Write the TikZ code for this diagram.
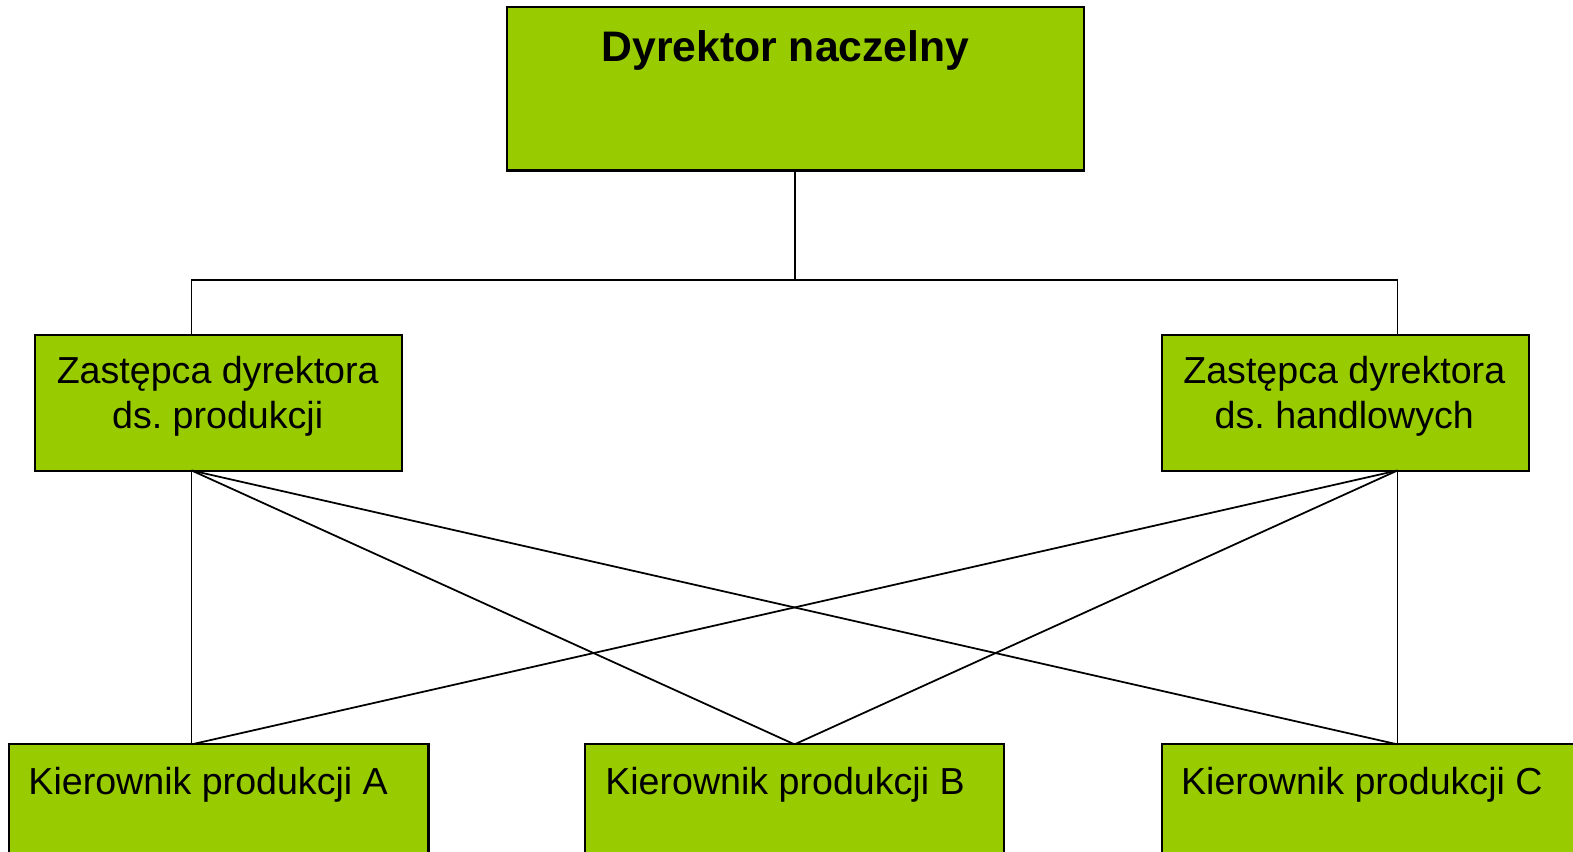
\documentclass[tikz,border=0pt]{standalone}
\usepackage{fontspec}
\setmainfont{Liberation Sans}
\definecolor{boxgreen}{HTML}{99CC00}
\tikzset{
  box/.style={draw=black,line width=1.2pt,fill=boxgreen,inner sep=0pt,outer sep=0pt,anchor=north west},
  txt/.style={font=\fontsize{21.4}{25.3}\selectfont,inner sep=0pt},
  conn/.style={line width=1pt}
}
\begin{document}
\frenchspacing
\begin{tikzpicture}[x=0.020064cm,y=-0.020064cm]
  \useasboundingbox (0,0) rectangle (1568,849);
  \clip (0,0) rectangle (1568,849);
  % boxes
  \node[box,minimum width=11.54cm,minimum height=3.27cm] (dyr) at (505,7) {};
  \node[box,minimum width=7.34cm,minimum height=2.71cm] (zastP) at (35,334) {};
  \node[box,minimum width=7.34cm,minimum height=2.71cm] (zastH) at (1158,334) {};
  \node[box,minimum width=8.39cm,minimum height=3.2cm] (kierA) at (9,742) {};
  \node[box,minimum width=8.39cm,minimum height=3.2cm] (kierB) at (583,742) {};
  \node[box,minimum width=9.3cm,minimum height=3.2cm] (kierC) at (1158,742) {};
  % attach points
  \coordinate (bus) at (792.5,279);
  \coordinate (zpN) at (191,334);
  \coordinate (zpS) at (191,469);
  \coordinate (zhN) at (1393,334);
  \coordinate (zhS) at (1393,469);
  \coordinate (kaN) at (191,742);
  \coordinate (kbN) at (792,742);
  \coordinate (kcN) at (1393,742);
  % lines
  \draw[conn] (dyr.south) -- (dyr.south |- bus);
  \draw[conn] (zpN) |- (bus) -| (zhN);
  \foreach \s in {zpS,zhS}
    \foreach \k in {kaN,kbN,kcN}
      \draw[conn] (\s) -- (\k);
  % texts
  \node[txt,font=\fontsize{24.3}{29}\selectfont\bfseries] (dyrT) at (783,50) {Dyrektor naczelny};
  \node[txt,align=center] (zpT) at (217,395) {Zastępca dyrektora\\ds. produkcji};
  \node[txt,align=center] (zhT) at (1340,395) {Zastępca dyrektora\\ds. handlowych};
  \node[txt,anchor=west] (kaT) at (28,782) {Kierownik produkcji A};
  \node[txt,anchor=west] (kbT) at (603,782) {Kierownik produkcji B};
  \node[txt,anchor=west] (kcT) at (1177,782) {Kierownik produkcji C};
\end{tikzpicture}
\end{document}
